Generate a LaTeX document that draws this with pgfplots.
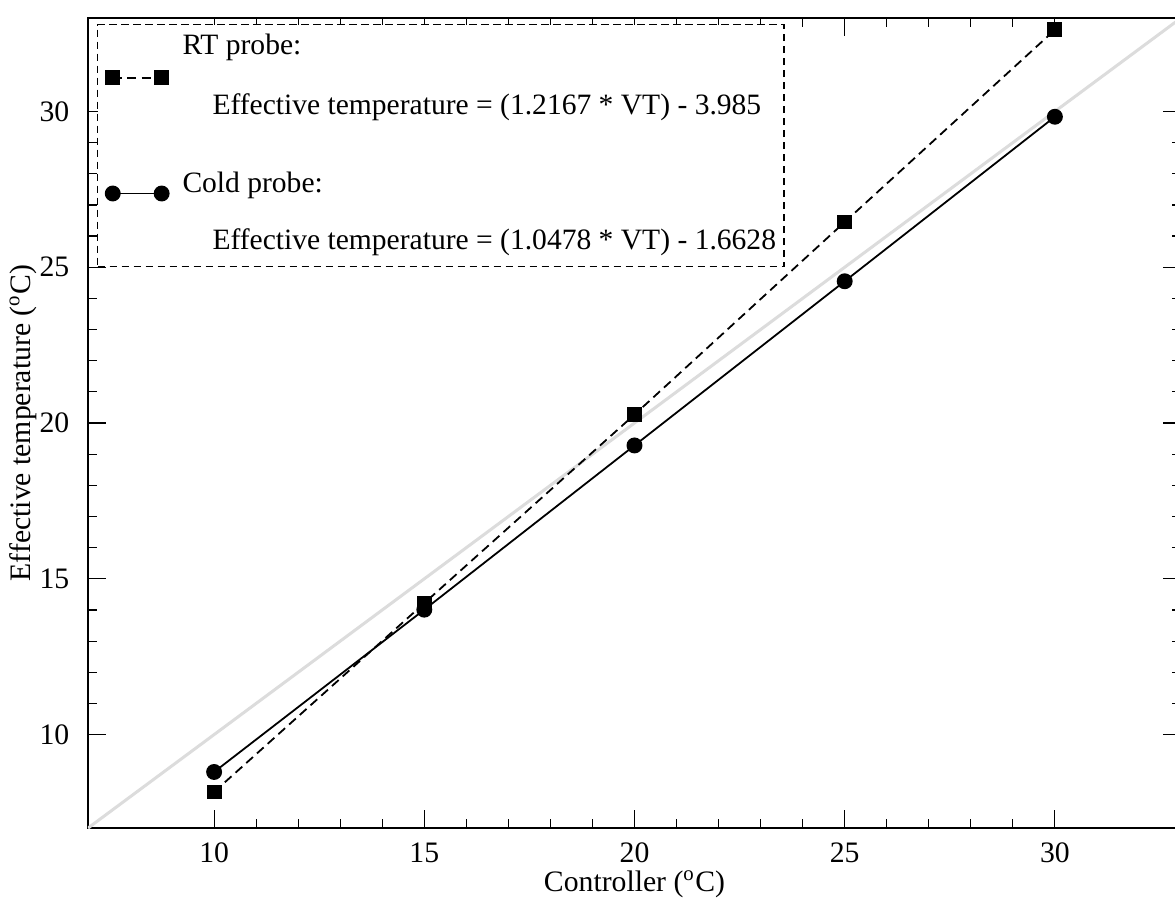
\documentclass[border=0pt]{standalone}
\usepackage{fontspec}
\setmainfont{Liberation Serif}
\usepackage{pgfplots}
\pgfplotsset{compat=1.18}
\usetikzlibrary{calc}
\definecolor{idline}{RGB}{220,220,220}
\newcommand{\ls}[2]{\rule[-#2pt]{0pt}{\dimexpr #1pt + #2pt\relax}}
\begin{document}
\begin{tikzpicture}
\begin{axis}[name=A, scale only axis, width=364.3pt, height=270pt,
  xmin=7, xmax=33, ymin=7, ymax=33,
  xtick={10,15,20,25,30}, ytick={10,15,20,25,30},
  minor x tick num=4, minor y tick num=4,
  major tick length=6pt, minor tick length=3pt,
  tick align=inside, tick pos=both,
  axis line style={line width=0.45pt},
  every tick/.style={black, line width=0.4pt},
  /pgf/number format/assume math mode=true,
  tick label style={font=\fontsize{9.9}{12}\selectfont},
  x tick label style={yshift=-1.3pt},
  y tick label style={xshift=-2.7pt},
  label style={font=\fontsize{9.9}{12}\selectfont},
  xlabel={Controller (\textsuperscript{o}C)},
  ylabel={Effective temperature (\textsuperscript{o}C)},
  xlabel style={at={(axis description cs:0.5,-0.0695)}, anchor=center},
  ylabel style={at={(axis description cs:-0.0596,0.5)}, anchor=center},
  legend cell align=left,
  legend image code/.code={\draw[#1] plot coordinates {(0pt,0pt) (16.3pt,0pt)};},
  legend style={at={(0,1)}, anchor=north west, xshift=3pt, yshift=-2pt,
    draw=black, line width=0.4pt, dash pattern=on 2.5pt off 1.5pt,
    font=\fontsize{9.85}{12}\selectfont, inner xsep=2.7pt, inner ysep=2.7pt,
    nodes={inner sep=0pt, text depth=},
    row sep=0pt, column sep=4.6pt},
]
\addplot[idline, line width=1pt, forget plot] coordinates {(7,7) (33,33)};
\addlegendimage{empty legend}
\addlegendentry{RT probe:\ls{7.3}{2.7}}
\addplot[black, line width=0.6pt, dash pattern=on 3pt off 1.8pt, mark=square*, mark size=2.17pt, mark options={solid}]
  coordinates {(10,8.16) (15,14.22) (20,20.27) (25,26.45) (30,32.62)};
\addlegendentry{\ls{7.3}{2.7}}
\addlegendimage{empty legend}
\addlegendentry{\hspace{10pt}Effective temperature = (1.2167 * VT) - 3.985\ls{7.3}{2.7}}
\addlegendimage{empty legend}
\addlegendentry{\ls{8.55}{3.95}}
\addplot[black, solid, line width=0.6pt, mark=*, mark size=2.35pt, mark options={solid}]
  coordinates {(10,8.8) (15,14.01) (20,19.28) (25,24.55) (30,29.83)};
\addlegendentry{Cold probe:\ls{10.7}{11.5}}
\addlegendimage{empty legend}
\addlegendentry{\hspace{10pt}Effective temperature = (1.0478 * VT) - 1.6628\ls{7.6}{3.0}}
\end{axis}
\pgfresetboundingbox
\path[use as bounding box] ($(A.south west)+(-29.33pt,-23pt)$) rectangle ($(A.north east)+(-2pt,6pt)$);
\end{tikzpicture}
\end{document}
